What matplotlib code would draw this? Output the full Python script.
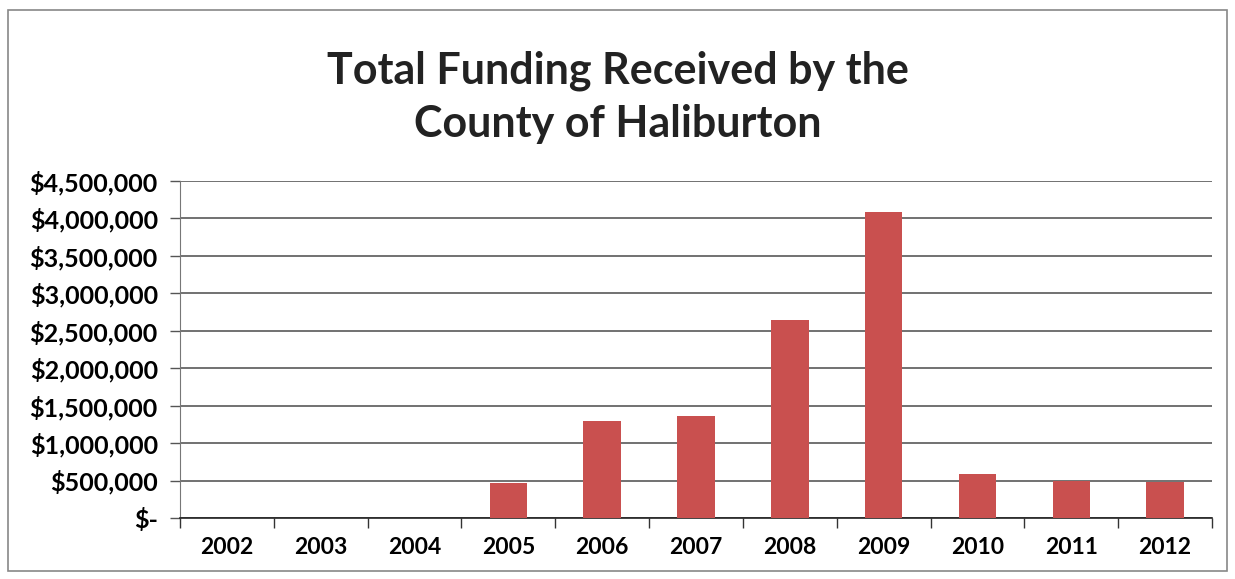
import numpy as np
import matplotlib
matplotlib.use("Agg")
import matplotlib.pyplot as plt
from matplotlib.ticker import FuncFormatter, MultipleLocator, FixedLocator
from matplotlib.patches import Rectangle

# Data
years = ["2002", "2003", "2004", "2005", "2006", "2007", "2008", "2009", "2010", "2011", "2012"]
funding = [0, 0, 0, 470000, 1300000, 1360000, 2650000, 4080000, 590000, 500000, 480000]

plt.rcParams['font.family'] = ['Lato', 'DejaVu Sans']

fig = plt.figure(figsize=(12.35, 5.79), dpi=100)
ax = fig.add_axes([180 / 1235, 1 - 518 / 579, (1212 - 180) / 1235, (518 - 181) / 579])

x = np.arange(len(years))
ax.bar(x, funding, width=0.4, color="#C9504F", zorder=3)

ax.set_xlim(-0.5, len(years) - 0.5)
ax.set_ylim(0, 4500000)
ax.yaxis.set_major_locator(MultipleLocator(500000))


def money(v, pos):
    if v == 0:
        return "$-"
    return "${:,.0f}".format(v)


ax.yaxis.set_major_formatter(FuncFormatter(money))
ax.grid(axis="y", color="#4a4a4a", linewidth=1.1, zorder=0)

ax.set_xticks(x)
ax.set_xticklabels(years)
ax.xaxis.set_minor_locator(FixedLocator(np.arange(-0.5, len(years), 1.0)))
ax.tick_params(axis="x", which="major", length=0, pad=14, labelsize=16.5)
ax.tick_params(axis="x", which="minor", length=7, width=1, color="#333333", direction="out")
ax.tick_params(axis="y", length=7, width=1, color="#555555", labelsize=18, pad=9)
for lbl in ax.get_xticklabels() + ax.get_yticklabels():
    lbl.set_fontweight("bold")

for side in ["top", "right"]:
    ax.spines[side].set_visible(False)
ax.spines["left"].set_color("#777777")
ax.spines["bottom"].set_color("#222222")
ax.spines["bottom"].set_linewidth(1.2)

fig.text(0.5, 1 - 97 / 579, "Total Funding Received by the\nCounty of Haliburton",
         ha="center", va="center", fontsize=31, fontweight="bold", color="#222222",
         linespacing=1.4)

# outer chart border
fig.patches.append(Rectangle((8 / 1235, 8 / 579), 1 - 16 / 1235, 1 - 18 / 579,
                             transform=fig.transFigure, fill=False,
                             edgecolor="#888888", linewidth=1.2))

fig.savefig("out.png", dpi=100)
